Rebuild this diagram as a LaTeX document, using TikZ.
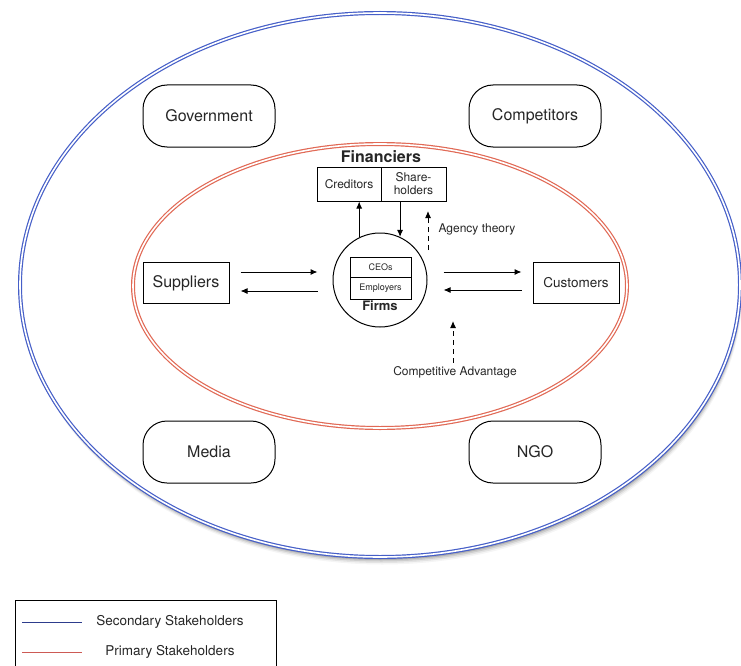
\documentclass[tikz,border=0pt]{standalone}
\usepackage{fontspec}
\setmainfont{TeX Gyre Heros}
\usetikzlibrary{arrows.meta}

\definecolor{outerblue}{RGB}{70,95,200}
\definecolor{innerred}{RGB}{225,105,85}
\definecolor{legblue}{RGB}{45,60,140}
\definecolor{legred}{RGB}{205,90,85}

\tikzset{
  party/.style={draw, line width=1pt, rounded corners=24pt, minimum width=132pt,
    minimum height=62pt, font=\fontsize{16}{19}\selectfont},
  trader/.style={draw, line width=1pt, minimum width=86pt, minimum height=41pt},
  cell/.style={draw, line width=1pt, minimum height=34pt, inner sep=1pt,
    align=center, font=\fontsize{12}{13}\selectfont},
  staff/.style={draw, line width=0.8pt, minimum width=61pt, inner sep=1pt,
    font=\fontsize{9}{10}\selectfont},
  flow/.style={line width=1pt, -{Latex[length=7pt,width=6pt]}},
  hint/.style={flow, dash pattern=on 5pt off 4pt},
  note/.style={font=\fontsize{12}{14}\selectfont},
  ring/.style={line width=1.2pt, double=white, double distance=1.6pt}
}

\begin{document}
\begin{tikzpicture}[x=1pt,y=-1pt,text=black!85]
\useasboundingbox (0,0) rectangle (741,666);

% secondary stakeholders
\foreach \s/\o in {1.5/0.18,3/0.14,4.5/0.10,6/0.07,7.5/0.04}
  \fill[black,opacity=\o] (380+0.3*\s,285+\s) ellipse [x radius=360, y radius=272];
\draw[ring, outerblue, fill=white] (380,285) ellipse [x radius=360, y radius=272];

% primary stakeholders
\draw[ring, innerred] (380,286) ellipse [x radius=247, y radius=142];

\node[party] (gov) at (209,116) {Government};
\node[party] (comp) at (535,116) {Competitors};
\node[party] (media) at (209,452) {Media};
\node[party] (ngo) at (535,452) {NGO};

\node[trader, font=\fontsize{16}{19}\selectfont] (suppl) at (186,283) {Suppliers};
\node[trader, font=\fontsize{13.5}{16}\selectfont] (cust) at (576,283) {Customers};

\node[font=\bfseries\fontsize{16}{19}\selectfont] (fin) at (381,157) {Financiers};
\node[cell, minimum width=64pt] (cred) at (349,184) {Creditors};
\node[cell, minimum width=65pt] (share) at (413.5,184) {Share-\\holders};

\node[circle, draw, line width=1pt, minimum size=94pt] (firms) at (380,280) {};
\node[staff, minimum height=20pt] (ceo) at (380.5,267) {CEOs};
\node[staff, minimum height=22pt] (empl) at (380.5,288) {Employers};
\node[font=\bfseries\fontsize{13}{15}\selectfont] (firmlbl) at (380,306) {Firms};

% trade flows
\draw[flow] ([shift={(11,-11)}]suppl.east) -- ([shift={(-15,-8)}]firms.west);
\draw[flow] ([shift={(-15,11)}]firms.west) -- ([shift={(11,8)}]suppl.east);
\draw[flow] ([shift={(16,-8)}]firms.east) -- ([shift={(-11,-11)}]cust.west);
\draw[flow] ([shift={(-11,7)}]cust.west) -- ([shift={(16,10)}]firms.east);

% finance flows
\draw[flow] (firms.116) -- (firms.116 |- cred.south);
\draw[flow] (firms.65 |- share.south) -- (firms.65);

\node[note] (agency) at (477,229) {Agency theory};
\coordinate (agfoot) at (428,250);
\coordinate (agtip) at (428,211);
\draw[hint] (agfoot) -- (agtip);

\node[note] (compadv) at (455,372) {Competitive Advantage};
\coordinate (cvtip) at (453,321);
\draw[hint] (compadv.north -| cvtip) -- (cvtip);

% legend
\draw[line width=0.8pt] (15,600) rectangle (276,700);
\node[font=\fontsize{13.5}{16}\selectfont] (seclbl) at (170,622) {Secondary Stakeholders};
\node[font=\fontsize{13.5}{16}\selectfont] (prilbl) at (170,652) {Primary Stakeholders};
\draw[legblue, line width=1pt] (22,622) -- (82,622);
\draw[legred, line width=1pt] (22,652) -- (82,652);

\end{tikzpicture}
\end{document}
